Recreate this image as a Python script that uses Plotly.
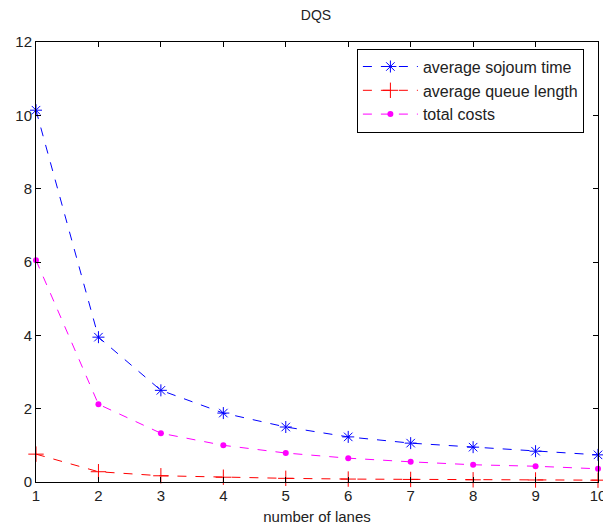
import plotly.graph_objects as go

lanes = [1, 2, 3, 4, 5, 6, 7, 8, 9, 10]
sojourn = [10.14, 3.95, 2.5, 1.88, 1.5, 1.23, 1.06, 0.95, 0.84, 0.74]
queue = [0.76, 0.28, 0.17, 0.13, 0.10, 0.08, 0.07, 0.06, 0.055, 0.05]
costs = [6.05, 2.12, 1.33, 1.0, 0.79, 0.65, 0.55, 0.47, 0.43, 0.36]

FONT = "Liberation Sans, Arial"

fig = go.Figure()
fig.add_trace(go.Scatter(x=lanes, y=sojourn, name="average sojoum time", mode="lines+markers",
                         cliponaxis=False,
                         line=dict(color="#0000ff", width=1, dash="dash"),
                         marker=dict(symbol="asterisk-open", size=10, color="#0000ff", line=dict(width=1, color="#0000ff"))))
fig.add_trace(go.Scatter(x=lanes, y=queue, name="average queue length", mode="lines+markers",
                         cliponaxis=False,
                         line=dict(color="#ff0000", width=1, dash="dash"),
                         marker=dict(symbol="cross-thin-open", size=11, color="#ff0000", line=dict(width=1, color="#ff0000"))))
fig.add_trace(go.Scatter(x=lanes, y=costs, name="total costs", mode="lines+markers",
                         cliponaxis=False,
                         line=dict(color="#ff00ff", width=1, dash="dash"),
                         marker=dict(symbol="circle", size=6, color="#ff00ff")))

axis_common = dict(showline=True, linecolor="black", linewidth=1, mirror="ticks",
                   ticks="inside", ticklen=5, tickcolor="black", showgrid=False, zeroline=False,
                   automargin=False,
                   tickfont=dict(family=FONT, size=15, color="#222"))
fig.update_xaxes(range=[1, 10], tickvals=lanes, ticklabeloverflow="allow",
                 title=dict(text="number of lanes", standoff=8,
                            font=dict(family=FONT, size=15, color="#222")), **axis_common)
fig.update_yaxes(range=[0, 12], tickvals=[0, 2, 4, 6, 8, 10, 12], **axis_common)

fig.update_layout(
    width=603, height=525,
    margin=dict(l=36, r=5, t=42, b=43),
    plot_bgcolor="white", paper_bgcolor="white",
    title=dict(text="DQS", x=0.524, xanchor="center", y=0.971, yanchor="middle",
               font=dict(family=FONT, size=14, color="#222")),
    legend=dict(x=0.571, y=0.985, xanchor="left", yanchor="top", bordercolor="black", borderwidth=1,
                bgcolor="white", font=dict(family=FONT, size=16, color="#222"),
                tracegroupgap=0, itemwidth=55),
    showlegend=True,
)
fig.write_html("out.html", config={"displayModeBar": False},
               post_script="document.body.style.margin='0';document.body.style.overflow='hidden';")
